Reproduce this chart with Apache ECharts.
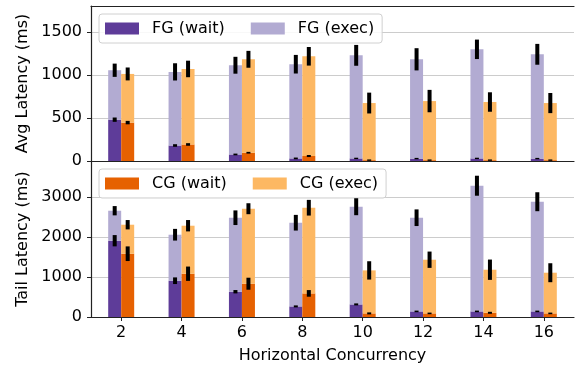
<!DOCTYPE html>
<html>
<head>
<meta charset="utf-8">
<script src="https://cdn.jsdelivr.net/npm/echarts@6/dist/echarts.min.js"></script>
<style>
html,body{margin:0;padding:0;background:#fff;}
#main{width:577px;height:371px;}
</style>
</head>
<body>
<div id="main"></div>
<script>
var concurrency = ['2', '4', '6', '8', '10', '12', '14', '16'];

// avg latency (ms)
var avgFgWait = [480, 180, 76, 30, 30, 28, 30, 28];
var avgFgExec = [574, 855, 1036, 1094, 1197, 1153, 1267, 1211];
var avgCgWait = [446, 192, 96, 58, 10, 10, 10, 10];
var avgCgExec = [565, 877, 1085, 1158, 663, 686, 675, 663];
var avgFgWaitErr = [25, 15, 10, 10, 8, 8, 8, 8];
var avgFgExecErr = [77, 100, 98, 108, 121, 129, 113, 121];
var avgCgWaitErr = [20, 15, 10, 12, 8, 8, 8, 8];
var avgCgExecErr = [75, 96, 98, 108, 121, 130, 113, 117];

// tail latency (ms)
var tailFgWait = [1907, 907, 632, 265, 315, 140, 140, 140];
var tailFgExec = [750, 1150, 1850, 2092, 2442, 2342, 3142, 2742];
var tailCgWait = [1582, 1082, 832, 590, 90, 90, 105, 90];
var tailCgExec = [725, 1200, 1875, 2142, 1075, 1342, 1077, 1017];
var tailFgWaitErr = [141, 83, 42, 25, 25, 20, 20, 20];
var tailFgExecErr = [116, 146, 183, 196, 212, 208, 250, 237];
var tailCgWaitErr = [183, 179, 150, 83, 25, 20, 25, 20];
var tailCgExecErr = [117, 142, 137, 196, 229, 204, 254, 237];

var FONT = 'DejaVu Sans';
var C_FG_WAIT = '#5e3c99', C_FG_EXEC = '#b2abd2', C_CG_WAIT = '#e66101', C_CG_EXEC = '#fdb863';

// error bar points: [category index, centre, error]
function errData(base, add, err) {
    var out = [];
    for (var i = 0; i < base.length; i++) {
        out.push([i, base[i] + (add ? add[i] : 0), err[i]]);
    }
    return out;
}

function errSeries(idx, data, dx) {
    return {
        type: 'custom',
        xAxisIndex: idx,
        yAxisIndex: idx,
        z: 10,
        silent: true,
        encode: {x: 0, y: 1},
        data: data,
        renderItem: function (params, api) {
            var x = api.value(0), c = api.value(1), e = api.value(2);
            var p1 = api.coord([x, c - e]);
            var p2 = api.coord([x, c + e]);
            return {
                type: 'line',
                shape: {x1: p1[0] + dx, y1: p1[1], x2: p2[0] + dx, y2: p2[1]},
                style: {stroke: '#000', lineWidth: 4}
            };
        }
    };
}

function bar(name, idx, stack, data, color) {
    return {
        name: name,
        type: 'bar',
        xAxisIndex: idx,
        yAxisIndex: idx,
        stack: stack + idx,
        data: data,
        barWidth: 13,
        barGap: '0%',
        itemStyle: {color: color},
        emphasis: {disabled: true}
    };
}

function yAxis(idx, name, max, interval) {
    return {
        type: 'value',
        gridIndex: idx,
        min: 0,
        max: max,
        interval: interval,
        name: name,
        nameLocation: 'middle',
        nameGap: 49,
        nameTextStyle: {fontFamily: FONT, fontSize: 16, color: '#000'},
        axisLine: {show: true, lineStyle: {color: '#222', width: 1.2}},
        axisTick: {show: true, length: 4, lineStyle: {color: '#222'}},
        axisLabel: {fontFamily: FONT, fontSize: 16, color: '#000', margin: 9, showMaxLabel: false,
            formatter: function (v) { return String(v); }},
        splitLine: {show: true, lineStyle: {color: '#cccccc', width: 1}}
    };
}

function legend(top, names) {
    return {
        left: 99,
        top: top,
        data: names,
        orient: 'horizontal',
        icon: 'rect',
        itemWidth: 34,
        itemHeight: 12,
        itemGap: 26,
        selectedMode: false,
        backgroundColor: 'rgba(255,255,255,0.85)',
        borderColor: '#d0d0d0',
        borderWidth: 1,
        borderRadius: 3,
        padding: [6, 8, 6, 6],
        textStyle: {fontFamily: FONT, fontSize: 16, color: '#000', padding: [0, 0, 0, 8], lineHeight: 17}
    };
}

var myChart = echarts.init(document.getElementById('main'));
var option = {
    animation: false,
    backgroundColor: '#fff',
    grid: [
        {left: 91, right: 3, top: 6, height: 155},
        {left: 91, right: 3, top: 161, height: 156}
    ],
    legend: [
        legend(14, ['FG (wait)', 'FG (exec)']),
        legend(169, ['CG (wait)', 'CG (exec)'])
    ],
    xAxis: [
        {
            type: 'category', gridIndex: 0, data: concurrency,
            axisLine: {lineStyle: {color: '#222', width: 1.2}},
            axisTick: {show: false}, axisLabel: {show: false}
        },
        {
            type: 'category', gridIndex: 1, data: concurrency,
            name: 'Horizontal Concurrency',
            nameLocation: 'middle',
            nameGap: 31,
            nameTextStyle: {fontFamily: FONT, fontSize: 16, color: '#000'},
            axisLine: {lineStyle: {color: '#222', width: 1.2}},
            axisTick: {show: true, alignWithLabel: true, length: 4, lineStyle: {color: '#222'}},
            axisLabel: {fontFamily: FONT, fontSize: 16, color: '#000', margin: 8}
        },
        {
            type: 'category', gridIndex: 0, position: 'top', data: concurrency,
            axisLine: {lineStyle: {color: '#222', width: 1.2}},
            axisTick: {show: false}, axisLabel: {show: false}
        }
    ],
    yAxis: [
        yAxis(0, 'Avg Latency (ms)', 1800, 500),
        yAxis(1, 'Tail Latency (ms)', 3900, 1000)
    ],
    series: [
        bar('FG (wait)', 0, 'fg', avgFgWait, C_FG_WAIT),
        bar('FG (exec)', 0, 'fg', avgFgExec, C_FG_EXEC),
        bar('CG (wait)', 0, 'cg', avgCgWait, C_CG_WAIT),
        bar('CG (exec)', 0, 'cg', avgCgExec, C_CG_EXEC),
        bar('FG (wait)', 1, 'fg', tailFgWait, C_FG_WAIT),
        bar('FG (exec)', 1, 'fg', tailFgExec, C_FG_EXEC),
        bar('CG (wait)', 1, 'cg', tailCgWait, C_CG_WAIT),
        bar('CG (exec)', 1, 'cg', tailCgExec, C_CG_EXEC),
        errSeries(0, errData(avgFgWait, null, avgFgWaitErr), -6.5),
        errSeries(0, errData(avgFgWait, avgFgExec, avgFgExecErr), -6.5),
        errSeries(0, errData(avgCgWait, null, avgCgWaitErr), 6.5),
        errSeries(0, errData(avgCgWait, avgCgExec, avgCgExecErr), 6.5),
        errSeries(1, errData(tailFgWait, null, tailFgWaitErr), -6.5),
        errSeries(1, errData(tailFgWait, tailFgExec, tailFgExecErr), -6.5),
        errSeries(1, errData(tailCgWait, null, tailCgWaitErr), 6.5),
        errSeries(1, errData(tailCgWait, tailCgExec, tailCgExecErr), 6.5)
    ]
};

myChart.setOption(option);
</script>
</body>
</html>
